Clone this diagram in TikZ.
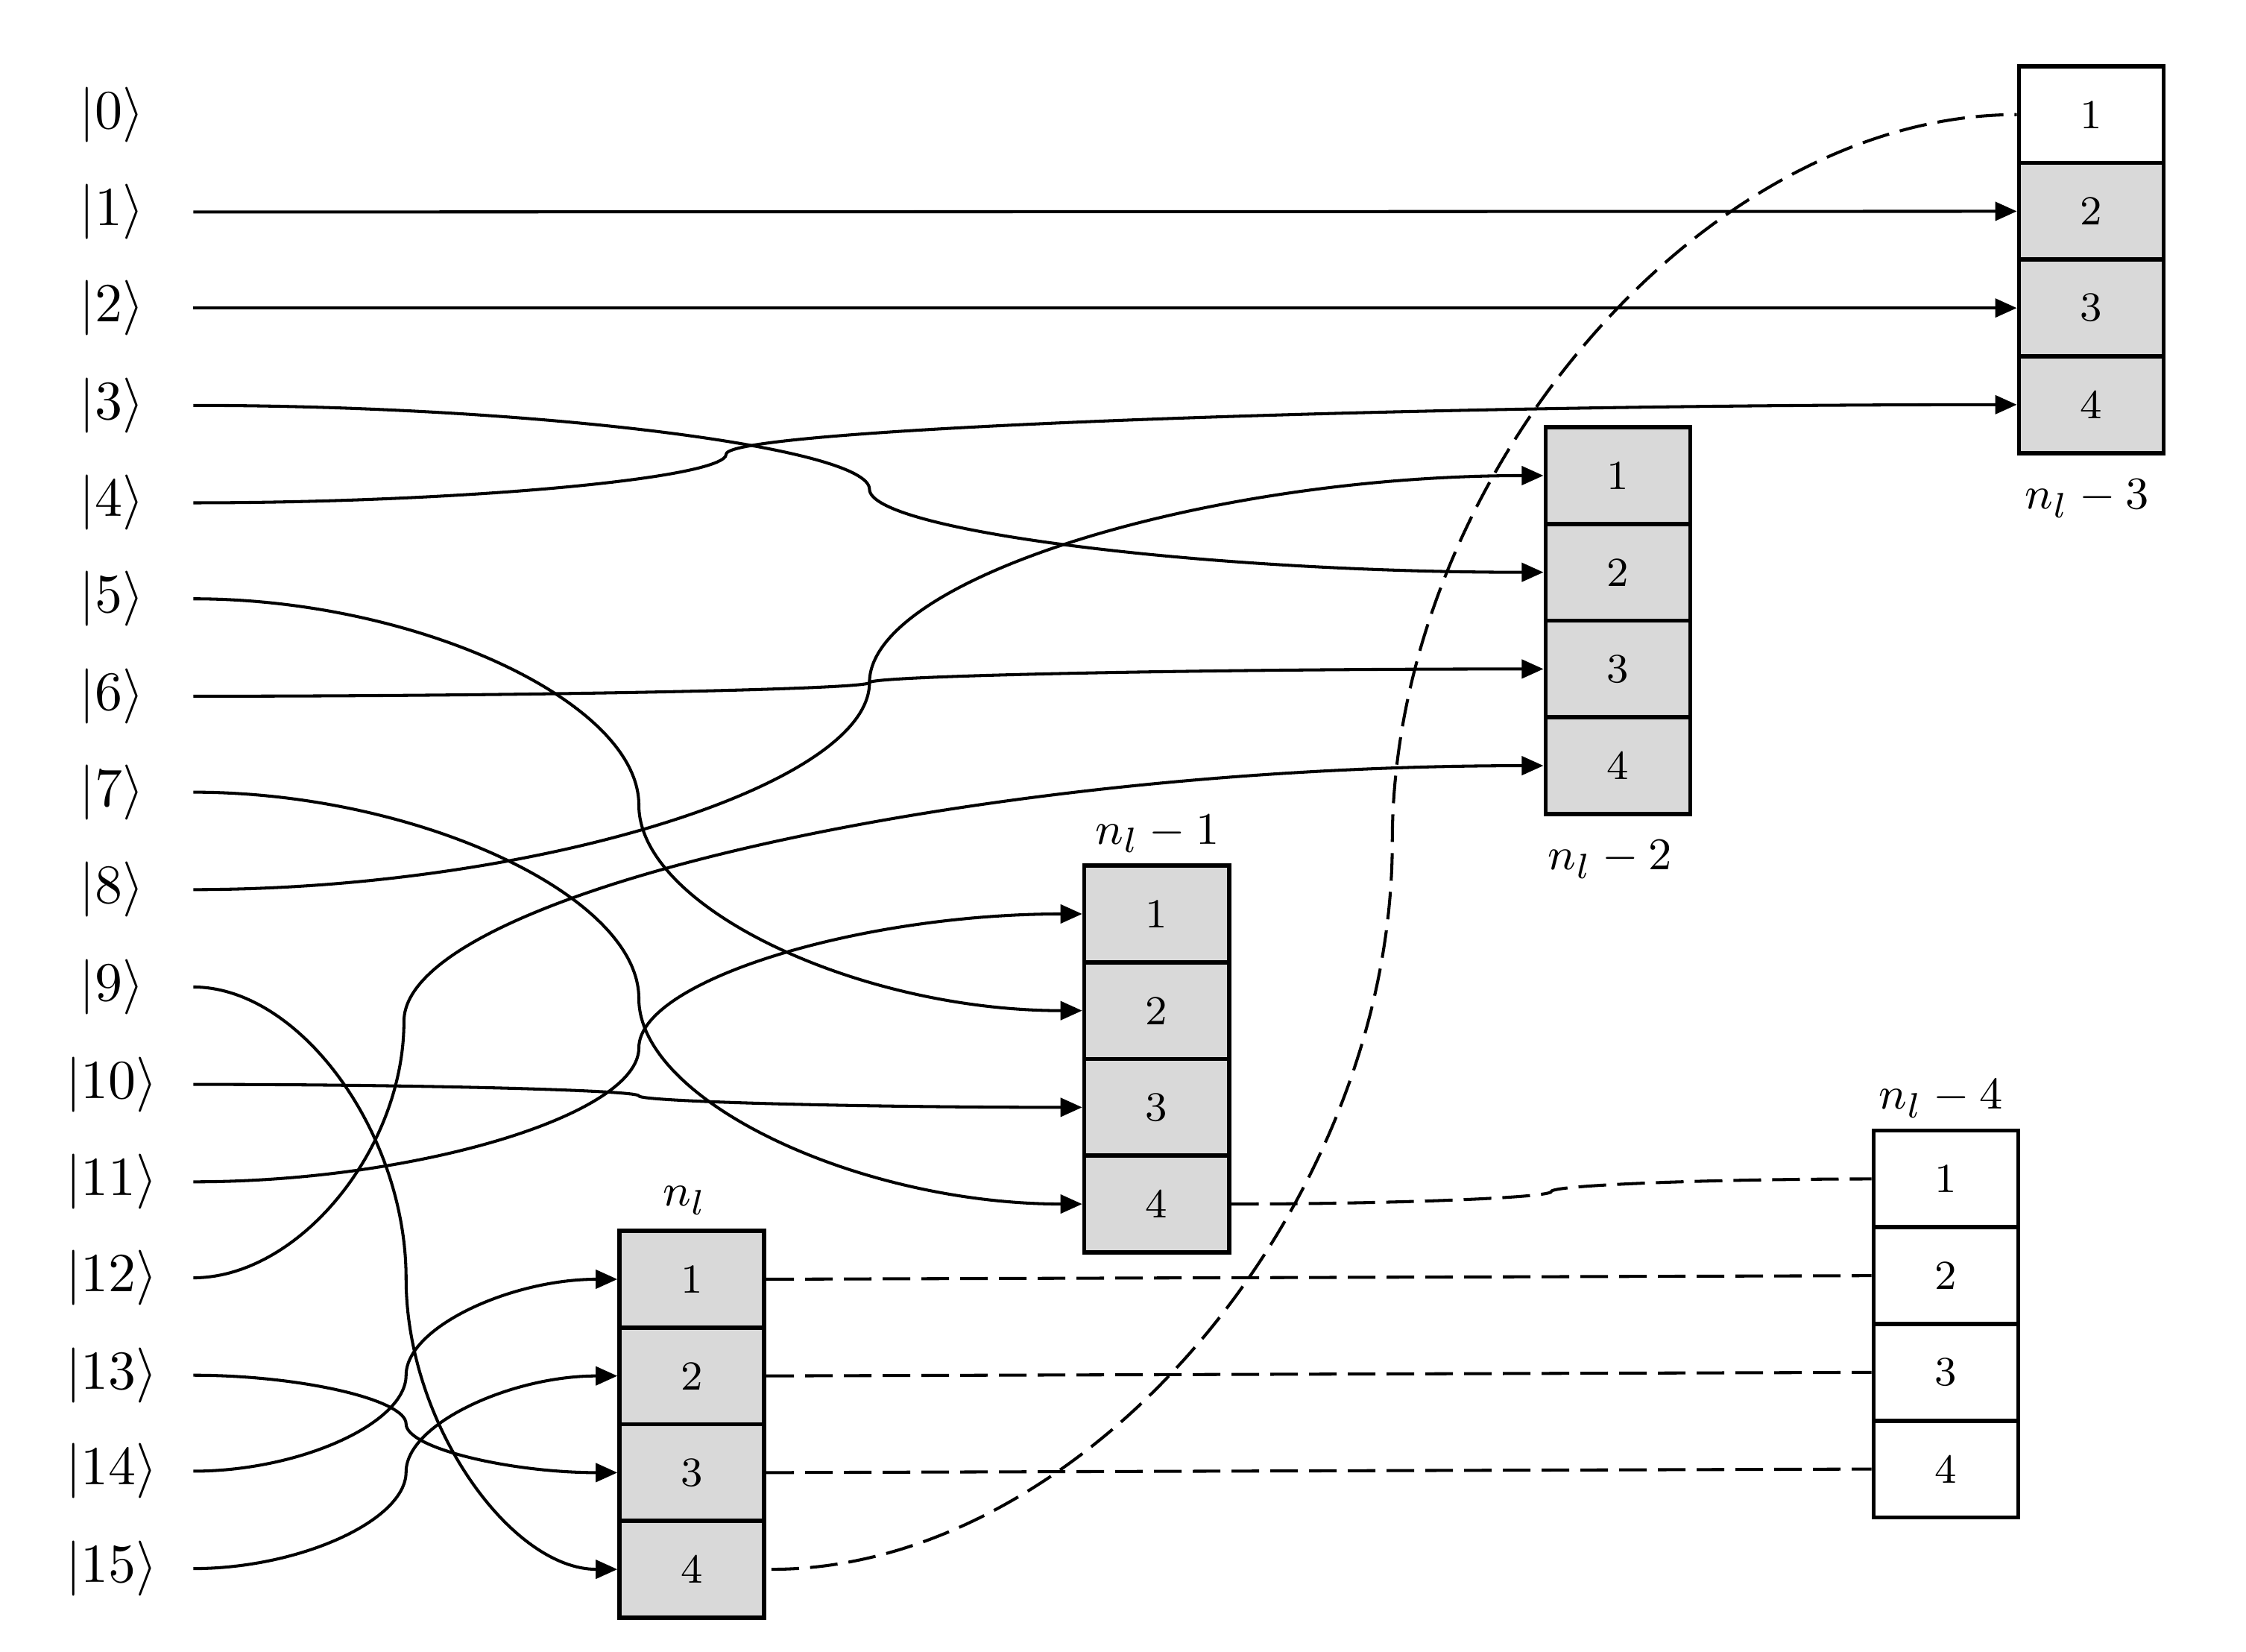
\documentclass[tikz,border=0pt]{standalone}
\usetikzlibrary{arrows.meta}
\definecolor{cellgray}{HTML}{D9D9D9}
\begin{document}
\begin{tikzpicture}[x=0.1mm,y=-0.1mm,
  cell/.style={draw,line width=0.85pt,minimum width=10.1mm,minimum height=6.75mm,inner sep=0pt,font=\fontsize{8.2}{10}\selectfont},
  gcell/.style={cell,fill=cellgray},
  ket/.style={font=\fontsize{10.5}{12}\selectfont,inner sep=0pt},
  blabel/.style={font=\fontsize{9.3}{11}\selectfont,inner sep=0pt},
  conn/.style={line width=0.6pt,-{Triangle[length=4.3pt,width=3.7pt]}},
  dconn/.style={line width=0.6pt,dash pattern=on 5.5pt off 2.2pt}]
\useasboundingbox (0,0) rectangle (1568,1153);

% ket labels and line starts
\foreach \i/\y in {0/80,1/148,2/215,3/283,4/351,5/418,6/486,7/553,8/621,9/689,10/757,11/825,12/892,13/960,14/1027,15/1095}{
  \node[ket] (k\i) at (78,\y) {$|\i\rangle$};
  \coordinate (s\i) at (135,\y);
}

% box n_l - 3
\node[cell]  (A1) at (1460,80) {1};
\node[gcell] (A2) at (1460,147.5) {2};
\node[gcell] (A3) at (1460,215) {3};
\node[gcell] (A4) at (1460,282.5) {4};
\node[blabel] (LA) at (1457,348) {$n_l-3$};

% box n_l - 2
\node[gcell] (B1) at (1129.5,332) {1};
\node[gcell] (B2) at (1129.5,399.5) {2};
\node[gcell] (B3) at (1129.5,467) {3};
\node[gcell] (B4) at (1129.5,534.5) {4};
\node[blabel] (LB) at (1124,600) {$n_l-2$};

% box n_l - 1
\node[gcell] (C1) at (807.5,638) {1};
\node[gcell] (C2) at (807.5,705.5) {2};
\node[gcell] (C3) at (807.5,773) {3};
\node[gcell] (C4) at (807.5,840.5) {4};
\node[blabel] (LC) at (808,582) {$n_l-1$};

% box n_l
\node[gcell] (D1) at (483,893) {1};
\node[gcell] (D2) at (483,960.5) {2};
\node[gcell] (D3) at (483,1028) {3};
\node[gcell] (D4) at (483,1095.5) {4};
\node[blabel] (LD) at (478,838) {$n_l$};

% box n_l - 4
\node[cell] (E1) at (1358.5,823) {1};
\node[cell] (E2) at (1358.5,890.5) {2};
\node[cell] (E3) at (1358.5,958) {3};
\node[cell] (E4) at (1358.5,1025.5) {4};
\node[blabel] (LE) at (1355,767) {$n_l-4$};

% kink coordinates
\coordinate (m3) at (607,341.5);
\coordinate (m4) at (507,317);
\coordinate (m5) at (446,562);
\coordinate (m6) at (607,476.5);
\coordinate (m7) at (446,697);
\coordinate (m8) at (607,476.5);
\coordinate (m9) at (283.5,892.5);
\coordinate (m10) at (446,765);
\coordinate (m11) at (446,731.5);
\coordinate (m12) at (282,713);
\coordinate (m13) at (283.5,994);
\coordinate (m14) at (283.5,960);
\coordinate (m15) at (283.5,1027.5);
\coordinate (mC) at (1083,831.75);
\coordinate (mD) at (972,587.75);

% solid connectors
\draw[conn] (s1) -- (A2.west);
\draw[conn] (s2) -- (A3.west);
\draw[conn] (s3) .. controls +(236,0) and +(0,-29.25) .. (m3) .. controls +(0,29) and +(-236,0) .. (B2.west);
\draw[conn] (s4) .. controls +(186,0) and +(0,17) .. (m4) .. controls +(0,-17.25) and +(-451.5,0) .. (A4.west);
\draw[conn] (s5) .. controls +(155.5,0) and +(0,-72) .. (m5) .. controls +(0,71.75) and +(-155.5,0) .. (C2.west);
\draw[conn] (s6) .. controls +(236,0) and +(0,4.75) .. (m6) .. controls +(0,-4.85) and +(-236,0) .. (B3.west);
\draw[conn] (s7) .. controls +(155.5,0) and +(0,-72) .. (m7) .. controls +(0,71.75) and +(-155.5,0) .. (C4.west);
\draw[conn] (s8) .. controls +(236,0) and +(0,72.25) .. (m8) .. controls +(0,-72.35) and +(-236,0) .. (B1.west);
\draw[conn] (s9) .. controls +(74.25,0) and +(0,-101.75) .. (m9) .. controls +(0,101.5) and +(-74.25,0) .. (D4.west);
\draw[conn] (s10) .. controls +(155.5,0) and +(0,-4) .. (m10) .. controls +(0,4) and +(-155.5,0) .. (C3.west);
\draw[conn] (s11) .. controls +(155.5,0) and +(0,46.75) .. (m11) .. controls +(0,-46.75) and +(-155.5,0) .. (C1.west);
\draw[conn] (s12) .. controls +(73.5,0) and +(0,89.5) .. (m12) .. controls +(0,-89.35) and +(-398.5,0) .. (B4.west);
\draw[conn] (s13) .. controls +(74.25,0) and +(0,-17) .. (m13) .. controls +(0,17) and +(-74.25,0) .. (D3.west);
\draw[conn] (s14) .. controls +(74.25,0) and +(0,33.5) .. (m14) .. controls +(0,-33.5) and +(-74.25,0) .. (D1.west);
\draw[conn] (s15) .. controls +(74.25,0) and +(0,33.75) .. (m15) .. controls +(0,-33.5) and +(-74.25,0) .. (D2.west);

% dashed connectors
\draw[dconn] (C4.east) .. controls +(112.5,0) and +(0,4.4) .. (mC) .. controls +(0,-4.4) and +(-112.5,0) .. (E1.west);
\draw[dconn] (D1.east) -- (E2.west);
\draw[dconn] (D2.east) -- (E3.west);
\draw[dconn] (D3.east) -- (E4.west);
\draw[dconn] ([xshift=1pt]D4.east) .. controls +(219,0) and +(0,253.9) .. (mD) .. controls +(0,-253.9) and +(-219,0) .. (A1.west);
\end{tikzpicture}
\end{document}
